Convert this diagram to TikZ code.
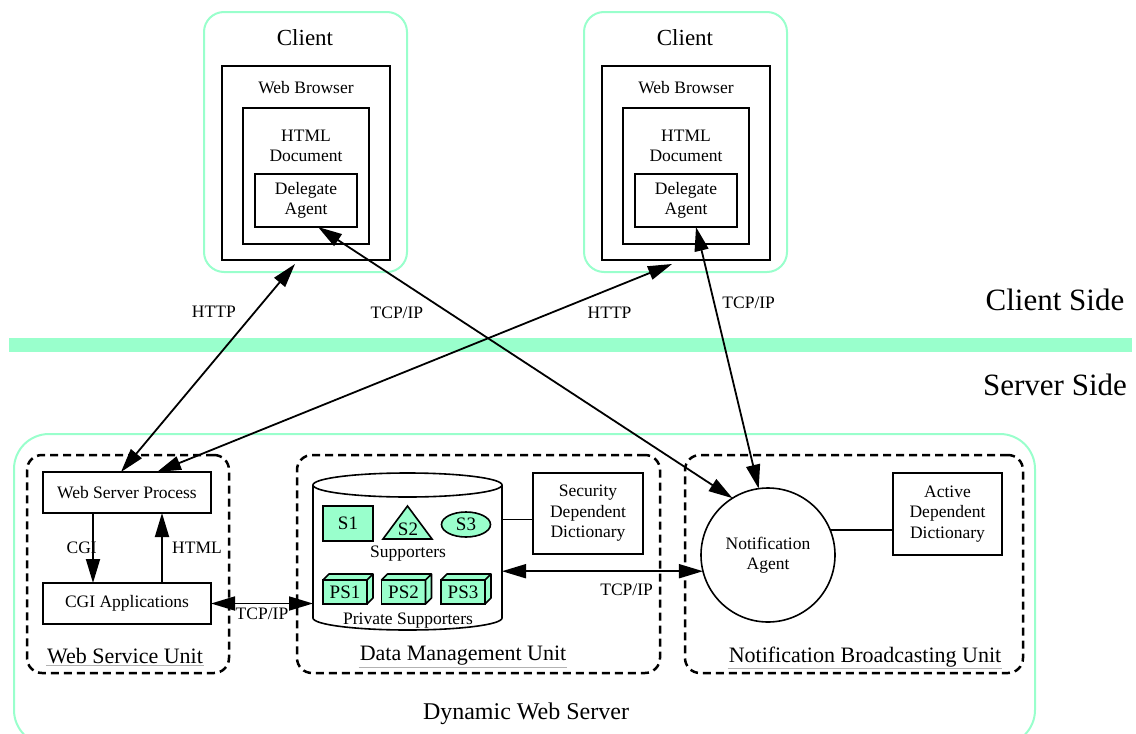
\documentclass[tikz,border=0pt]{standalone}
\usepackage{fontspec}
\setmainfont{Liberation Serif}
\usetikzlibrary{arrows.meta, positioning, shapes.geometric}

\definecolor{mint}{RGB}{153,255,204}

\begin{document}
\begin{tikzpicture}[
    box/.style={draw, line width=1.6pt, inner sep=0pt, outer sep=0pt, font=\fontsize{17.5}{20.5}\selectfont, align=center},
    clientbox/.style={draw=mint, line width=2pt, rounded corners=20pt, inner sep=0pt, outer sep=0pt},
    unitbox/.style={draw, line width=2.5pt, dash pattern=on 8pt off 5pt, rounded corners=15pt, inner sep=0pt, outer sep=0pt},
    txt/.style={font=\fontsize{17.5}{20.5}\selectfont, align=center, inner sep=1pt},
    unittxt/.style={font=\fontsize{22}{24}\selectfont, inner sep=1pt},
    suptxt/.style={font=\fontsize{19}{21}\selectfont, inner sep=0pt},
    supbox/.style={draw, fill=mint, line width=1.6pt, inner sep=0pt, outer sep=0pt, font=\fontsize{19}{21}\selectfont},
    link/.style={line width=1.8pt, {Triangle[length=24pt, width=14pt]}-{Triangle[length=24pt, width=14pt]}},
    oneway/.style={line width=1.8pt, -{Triangle[length=24pt, width=14pt]}},
]
    \clip (0pt, 0pt) rectangle (1136pt, -734pt);

    % client side
    \node at (305.5pt, -142pt) (cl1) [clientbox, minimum width=203pt, minimum height=260pt] {};
    \node at (685.5pt, -142pt) (cl2) [clientbox, minimum width=203pt, minimum height=260pt] {};
    \node at (305pt, -38pt) (cl1t) [font=\fontsize{23}{25}\selectfont] {Client};
    \node at (685pt, -38pt) (cl2t) [font=\fontsize{23}{25}\selectfont] {Client};

    \node at (306pt, -163pt) (wb1) [box, minimum width=168pt, minimum height=194pt] {};
    \node at (686pt, -163pt) (wb2) [box, minimum width=168pt, minimum height=194pt] {};
    \node at (306pt, -88pt) (wb1t) [txt] {Web Browser};
    \node at (686pt, -88pt) (wb2t) [txt] {Web Browser};

    \node at (306pt, -176pt) (hd1) [box, minimum width=126pt, minimum height=136pt] {};
    \node at (686pt, -176pt) (hd2) [box, minimum width=126pt, minimum height=136pt] {};
    \node at (306pt, -146pt) (hd1t) [txt] {HTML\\Document};
    \node at (686pt, -146pt) (hd2t) [txt] {HTML\\Document};

    \node at (306pt, -200.5pt) (da1) [box, minimum width=102pt, minimum height=53pt] {Delegate\\Agent};
    \node at (686pt, -200.5pt) (da2) [box, minimum width=102pt, minimum height=53pt] {Delegate\\Agent};

    % border between the sides
    \fill[mint] (9pt, -338pt) rectangle (1132pt, -352pt);
    \node at (1055pt, -300pt) (cs) [font=\fontsize{31}{33}\selectfont] {Client Side};
    \node at (1055pt, -385pt) (ss) [font=\fontsize{31}{33}\selectfont] {Server Side};

    % server side
    \node at (524.5pt, -589.5pt) (dws) [clientbox, rounded corners=35pt, minimum width=1021pt, minimum height=311pt] {};
    \node at (526pt, -714pt) (dwst) [font=\fontsize{24}{26}\selectfont] {Dynamic Web Server};

    \node at (128pt, -564pt) (wsu) [unitbox, minimum width=202pt, minimum height=218pt] {};
    \node at (478.5pt, -564pt) (dmu) [unitbox, minimum width=363pt, minimum height=218pt] {};
    \node at (854pt, -564pt) (nbu) [unitbox, minimum width=338pt, minimum height=218pt] {};
    \node at (125pt, -656pt) (wsut) [unittxt] {Web Service Unit};
    \node at (463pt, -656pt) (dmut) [unittxt] {Data Management Unit};
    \node at (865pt, -657pt) (nbut) [unittxt] {Notification Broadcasting Unit};
    \draw[black!30, line width=0.6pt] (wsut.south west) -- (wsut.south east);
    \draw[black!30, line width=0.6pt] (dmut.south west) -- (dmut.south east);
    \draw[black!30, line width=0.6pt] (nbut.south west) -- (nbut.south east);

    % web service unit
    \node at (127pt, -492.5pt) (wsp) [box, minimum width=168pt, minimum height=41pt] {Web Server Process};
    \node at (127pt, -603.5pt) (cga) [box, minimum width=168pt, minimum height=41pt] {CGI Applications};
    \path[draw, oneway] ([xshift=-34pt]wsp.south) -- ([xshift=-34pt]cga.north) node [midway, left, xshift=8pt, font=\fontsize{17.5}{20}\selectfont] {CGI};
    \path[draw, oneway] ([xshift=35pt]cga.north) -- ([xshift=35pt]wsp.south) node [midway, right, xshift=6pt, font=\fontsize{17.5}{20}\selectfont] {HTML};

    % data management unit
    \node at (407.5pt, -551.5pt) (db) [inner sep=0pt, outer sep=0pt, minimum width=189pt, minimum height=133pt] {};
    \draw[line width=1.6pt, fill=white] (db.north west) -- (db.south west) arc[start angle=180, end angle=360, x radius=94.5pt, y radius=12pt] -- (db.north east);
    \draw[line width=1.6pt] (db.north) ellipse [x radius=94.5pt, y radius=12pt];

    \node at (348pt, -523.5pt) (s1) [supbox, minimum width=50pt, minimum height=35pt] {S1};
    \draw[line width=1.6pt, fill=mint] (407.5pt, -506pt) -- (432pt, -539pt) -- (383pt, -539pt) -- cycle;
    \node at (408pt, -529pt) (s2) [suptxt] {S2};
    \node at (466pt, -524.5pt) (s3) [supbox, ellipse, minimum width=49pt, minimum height=25pt] {S3};
    \node at (408pt, -554pt) (supt) [txt] {Supporters};

    \node at (345pt, -592pt) (ps1) [supbox, minimum width=44pt, minimum height=24pt] {PS1};
    \node at (403.5pt, -592pt) (ps2) [supbox, minimum width=44pt, minimum height=24pt] {PS2};
    \node at (463pt, -592pt) (ps3) [supbox, minimum width=44pt, minimum height=24pt] {PS3};
    \draw[line width=1.6pt, fill=mint, line join=round] (ps1.north west) -- ++(6pt, 6pt) -- ([shift={(6pt, 6pt)}]ps1.north east) -- ([shift={(6pt, 6pt)}]ps1.south east) -- (ps1.south east) -- (ps1.north east) -- cycle (ps1.north east) -- ++(6pt, 6pt);
    \draw[line width=1.6pt, fill=mint, line join=round] (ps2.north west) -- ++(6pt, 6pt) -- ([shift={(6pt, 6pt)}]ps2.north east) -- ([shift={(6pt, 6pt)}]ps2.south east) -- (ps2.south east) -- (ps2.north east) -- cycle (ps2.north east) -- ++(6pt, 6pt);
    \draw[line width=1.6pt, fill=mint, line join=round] (ps3.north west) -- ++(6pt, 6pt) -- ([shift={(6pt, 6pt)}]ps3.north east) -- ([shift={(6pt, 6pt)}]ps3.south east) -- (ps3.south east) -- (ps3.north east) -- cycle (ps3.north east) -- ++(6pt, 6pt);
    \node at (408pt, -621pt) (pst) [txt] {Private Supporters};

    \node at (588pt, -513.5pt) (sdd) [box, minimum width=110pt, minimum height=81pt] {Security\\Dependent\\Dictionary};
    \path[draw, line width=1.6pt] ([yshift=-6pt]sdd.west -| db.east) -- ([yshift=-6pt]sdd.west);

    % notification broadcasting unit
    \node at (768pt, -555pt) (na) [box, circle, minimum size=134pt] {Notification\\Agent};
    \node at (947.5pt, -514pt) (add) [box, minimum width=109pt, minimum height=82pt] {Active\\Dependent\\Dictionary};
    \path[draw, line width=1.6pt] (na.22) -- (na.22 -| add.west);

    % connections
    \path[draw, link] ([xshift=-6pt]wsp.north) -- ([xshift=-11pt, yshift=-4pt]wb1.south) node [pos=0.77, left, xshift=-15pt, font=\fontsize{17.5}{20}\selectfont] {HTTP};
    \path[draw, link] ([xshift=30pt]wsp.north) -- ([xshift=-14pt, yshift=-4pt]wb2.south) node [pos=0.764, right, xshift=33pt, font=\fontsize{17.5}{20}\selectfont] {HTTP};
    \path[draw, link] ([xshift=12pt]da1.south) -- (na.122) node [pos=0.317, left, xshift=-22pt, font=\fontsize{17.5}{20}\selectfont] {TCP/IP};
    \path[draw, link] ([xshift=10pt]da2.south) -- (na.98) node [pos=0.29, right, xshift=4pt, font=\fontsize{17.5}{20}\selectfont] {TCP/IP};
    \path[draw, link] (cga.east) -- (cga.east -| db.west) node [midway, below, font=\fontsize{17.5}{20}\selectfont] {TCP/IP};
    \path[draw, link] (na.194 -| db.east) -- (na.194) node [pos=0.62, below, yshift=-8pt, font=\fontsize{17.5}{20}\selectfont] {TCP/IP};

\end{tikzpicture}
\end{document}
